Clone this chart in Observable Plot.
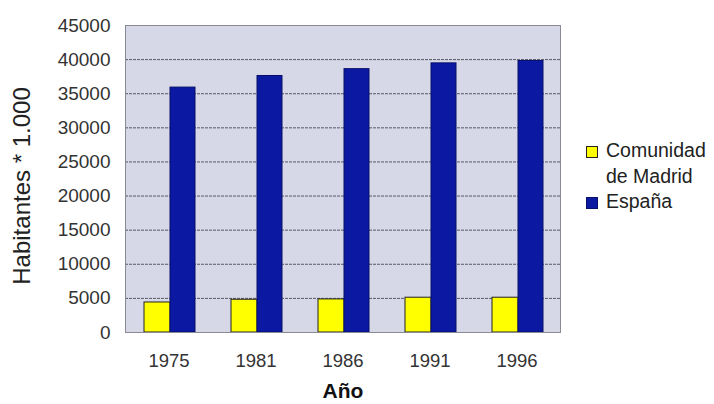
<!DOCTYPE html>
<html>
<head>
<meta charset="utf-8">
<script src="https://cdn.jsdelivr.net/npm/d3@7"></script>
<script src="https://cdn.jsdelivr.net/npm/@observablehq/plot@0.6"></script>
<style>
  html, body { margin: 0; padding: 0; background: #fff; }
  #wrap { position: relative; width: 714px; height: 404px; font-family: "Liberation Sans", Arial, sans-serif; }
  #legend { position: absolute; left: 586px; top: 138px; font-size: 19.5px; color: #222; line-height: 25.5px; }
  .item { display: flex; align-items: flex-start; }
  .sw { width: 10px; height: 10px; margin-top: 8px; margin-right: 8px; flex: none; }
</style>
</head>
<body>
<div id="wrap"><div id="legend"></div></div>
<script>
const years = ["1975", "1981", "1986", "1991", "1996"];
const series = ["Comunidad de Madrid", "España"];
const legendLines = [["Comunidad", "de Madrid"], ["España"]];
const madrid = [4400, 4800, 4850, 5100, 5100];
const espana = [35900, 37600, 38600, 39450, 39800];
const yTicks = [0, 5000, 10000, 15000, 20000, 25000, 30000, 35000, 40000, 45000];
const colors = ["#ffff00", "#0a18a2"];
const strokes = ["#222", "#06106a"];

const dataM = years.map((y, i) => ({year: y, value: madrid[i]}));
const dataE = years.map((y, i) => ({year: y, value: espana[i]}));

const chart = Plot.plot({
  width: 714,
  height: 404,
  marginLeft: 125,
  marginRight: 154,
  marginTop: 25,
  marginBottom: 72,
  style: {fontFamily: "Liberation Sans, Arial, sans-serif", background: "transparent"},
  x: {domain: years, padding: 0, label: null},
  y: {domain: [0, 45000], label: null},
  marks: [
    Plot.frame({fill: "#d7d8e7"}),
    Plot.gridY(yTicks.slice(1, -1), {stroke: "#4a4a55", strokeOpacity: 0.9, strokeDasharray: "3,1"}),
    Plot.barY(dataM, {x: "year", y: "value", fill: colors[0], stroke: strokes[0], strokeWidth: 1, insetLeft: 19, insetRight: 42}),
    Plot.barY(dataE, {x: "year", y: "value", fill: colors[1], stroke: strokes[1], strokeWidth: 1, insetLeft: 45, insetRight: 17}),
    Plot.frame({stroke: "#8a8a94", strokeWidth: 1}),
    Plot.axisY({ticks: yTicks, tickSize: 0, tickPadding: 15, fontSize: 19, fill: "#333", label: null, tickFormat: d => String(d)}),
    Plot.axisX({tickSize: 0, tickPadding: 21, fontSize: 18.5, fill: "#333", label: null}),
    Plot.text(["Año"], {frameAnchor: "bottom", dy: 65, fontSize: 21, fontWeight: "bold", fill: "#111", lineAnchor: "bottom"}),
    Plot.text(["Habitantes * 1.000"], {frameAnchor: "left", textAnchor: "middle", dx: -103, dy: 7, rotate: -90, fontSize: 24, fill: "#222"})
  ]
});
document.getElementById("wrap").prepend(chart);

const legend = document.getElementById("legend");
series.forEach((s, i) => {
  const item = document.createElement("div");
  item.className = "item";
  const sw = document.createElement("div");
  sw.className = "sw";
  sw.style.background = colors[i];
  sw.style.border = "1px solid " + strokes[i];
  const t = document.createElement("div");
  t.innerHTML = legendLines[i].join("<br>");
  item.appendChild(sw);
  item.appendChild(t);
  legend.appendChild(item);
});
</script>
</body>
</html>
